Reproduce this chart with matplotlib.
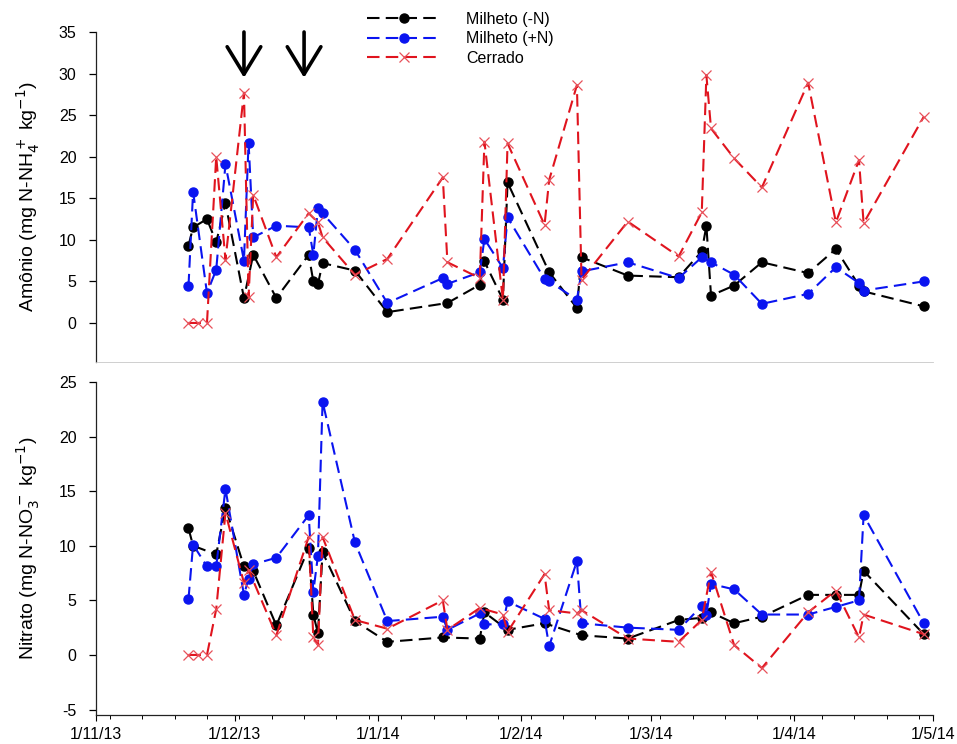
import matplotlib
matplotlib.use("Agg")
import matplotlib.pyplot as plt
import matplotlib.dates as mdates
import numpy as np
import pandas as pd

plt.rcParams['font.family'] = ['Liberation Sans', 'DejaVu Sans']
plt.rcParams['axes.unicode_minus'] = False

# ---------------- data ----------------
# Amônio (top panel)
amo_neg_dates = ['2013-11-21', '2013-11-22', '2013-11-25', '2013-11-27', '2013-11-29', '2013-12-03',
                 '2013-12-05', '2013-12-10', '2013-12-17', '2013-12-18', '2013-12-19', '2013-12-20',
                 '2013-12-27', '2014-01-03', '2014-01-16', '2014-01-23', '2014-01-24', '2014-01-28',
                 '2014-01-29', '2014-02-07', '2014-02-13', '2014-02-14', '2014-02-24', '2014-03-07',
                 '2014-03-12', '2014-03-13', '2014-03-14', '2014-03-19', '2014-03-25', '2014-04-04',
                 '2014-04-10', '2014-04-15', '2014-04-16', '2014-04-29']
amo_neg = [9.3, 11.5, 12.5, 9.7, 14.4, 3.0,
           8.2, 3.0, 8.2, 5.0, 4.7, 7.2,
           6.3, 1.3, 2.4, 4.6, 7.4, 2.8,
           16.9, 6.1, 1.8, 7.9, 5.7, 5.5,
           8.6, 11.7, 3.3, 4.5, 7.3, 6.0,
           8.9, 4.5, 3.8, 2.0]

amo_pos_dates = ['2013-11-21', '2013-11-22', '2013-11-25', '2013-11-27', '2013-11-29', '2013-12-03',
                 '2013-12-04', '2013-12-05', '2013-12-10', '2013-12-17', '2013-12-18', '2013-12-19',
                 '2013-12-20', '2013-12-27', '2014-01-03', '2014-01-15', '2014-01-16', '2014-01-23',
                 '2014-01-24', '2014-01-28', '2014-01-29', '2014-02-06', '2014-02-07', '2014-02-13',
                 '2014-02-14', '2014-02-24', '2014-03-07', '2014-03-12', '2014-03-14', '2014-03-19',
                 '2014-03-25', '2014-04-04', '2014-04-10', '2014-04-15', '2014-04-16', '2014-04-29']
amo_pos = [4.4, 15.8, 3.6, 6.4, 19.1, 7.5,
           21.7, 10.3, 11.7, 11.5, 8.2, 13.8,
           13.2, 8.8, 2.4, 5.4, 4.7, 6.1,
           10.1, 6.6, 12.7, 5.3, 5.0, 2.8,
           6.2, 7.3, 5.4, 7.9, 7.3, 5.8,
           2.3, 3.5, 6.7, 4.8, 3.9, 5.0]

amo_cer_dates = ['2013-11-21', '2013-11-23', '2013-11-25', '2013-11-27', '2013-11-29', '2013-12-03',
                 '2013-12-04', '2013-12-05', '2013-12-10', '2013-12-17', '2013-12-19', '2013-12-20',
                 '2013-12-27', '2014-01-03', '2014-01-15', '2014-01-16', '2014-01-23', '2014-01-24',
                 '2014-01-28', '2014-01-29', '2014-02-06', '2014-02-07', '2014-02-13', '2014-02-14',
                 '2014-02-24', '2014-03-07', '2014-03-12', '2014-03-13', '2014-03-14', '2014-03-19',
                 '2014-03-25', '2014-04-04', '2014-04-10', '2014-04-15', '2014-04-16', '2014-04-29']
amo_cer = [0.0, 0.0, 0.0, 20.0, 7.6, 27.7,
           3.1, 15.4, 7.9, 13.2, 12.1, 10.3,
           5.8, 7.7, 17.5, 7.3, 5.4, 21.8,
           2.8, 21.6, 11.8, 17.2, 28.6, 5.2,
           12.2, 8.0, 13.3, 29.8, 23.4, 19.8,
           16.3, 28.9, 12.1, 19.6, 12.0, 24.8]

# Nitrato (bottom panel)
nit_neg_dates = ['2013-11-21', '2013-11-22', '2013-11-27', '2013-11-29', '2013-12-03', '2013-12-05',
                 '2013-12-10', '2013-12-17', '2013-12-18', '2013-12-19', '2013-12-20', '2013-12-27',
                 '2014-01-03', '2014-01-15', '2014-01-23', '2014-01-24', '2014-01-29', '2014-02-06',
                 '2014-02-14', '2014-02-24', '2014-03-07', '2014-03-12', '2014-03-14', '2014-03-19',
                 '2014-03-25', '2014-04-04', '2014-04-10', '2014-04-15', '2014-04-16', '2014-04-29']
nit_neg = [11.6, 10.0, 9.2, 13.5, 8.1, 7.7,
           2.7, 9.8, 3.7, 2.0, 9.4, 3.1,
           1.2, 1.6, 1.5, 3.9, 2.3, 2.9,
           1.8, 1.5, 3.2, 3.4, 3.9, 2.9,
           3.5, 5.5, 5.5, 5.5, 7.7, 1.9]

nit_pos_dates = ['2013-11-21', '2013-11-22', '2013-11-25', '2013-11-27', '2013-11-29', '2013-12-03',
                 '2013-12-04', '2013-12-05', '2013-12-10', '2013-12-17', '2013-12-18', '2013-12-19',
                 '2013-12-20', '2013-12-27', '2014-01-03', '2014-01-15', '2014-01-16', '2014-01-23',
                 '2014-01-24', '2014-01-28', '2014-01-29', '2014-02-06', '2014-02-07', '2014-02-13',
                 '2014-02-14', '2014-02-24', '2014-03-07', '2014-03-12', '2014-03-13', '2014-03-14',
                 '2014-03-19', '2014-03-25', '2014-04-04', '2014-04-10', '2014-04-15', '2014-04-16',
                 '2014-04-29']
nit_pos = [5.1, 10.1, 8.1, 8.1, 15.2, 5.5,
           7.0, 8.3, 8.9, 12.8, 5.8, 9.1,
           23.2, 10.3, 3.1, 3.5, 2.3, 3.8,
           2.8, 2.8, 4.9, 3.3, 0.8, 8.6,
           2.9, 2.5, 2.3, 4.5, 3.7, 6.5,
           6.0, 3.7, 3.7, 4.4, 5.0, 12.8,
           2.9]

nit_cer_dates = ['2013-11-21', '2013-11-23', '2013-11-25', '2013-11-27', '2013-11-29', '2013-12-03',
                 '2013-12-04', '2013-12-10', '2013-12-17', '2013-12-18', '2013-12-19', '2013-12-20',
                 '2013-12-27', '2014-01-03', '2014-01-15', '2014-01-16', '2014-01-23', '2014-01-28',
                 '2014-01-29', '2014-02-06', '2014-02-07', '2014-02-13', '2014-02-14', '2014-02-24',
                 '2014-03-07', '2014-03-12', '2014-03-14', '2014-03-19', '2014-03-25', '2014-04-04',
                 '2014-04-10', '2014-04-15', '2014-04-16', '2014-04-29']
nit_cer = [0.0, 0.0, 0.0, 4.2, 13.0, 6.6,
           7.8, 1.8, 10.8, 1.6, 0.9, 10.8,
           3.2, 2.4, 5.0, 2.3, 4.3, 3.7,
           2.1, 7.4, 4.1, 3.8, 4.1, 1.5,
           1.2, 3.2, 7.6, 0.9, -1.2, 3.9,
           5.9, 1.6, 3.7, 1.9]

series_labels = ['Milheto (-N)', 'Milheto (+N)', 'Cerrado']
arrow_dates = ['2013-12-03', '2013-12-16']
x_range = ['2013-11-01', '2014-05-01']
amo_ylim = (-4.7, 35)
nit_ylim = (-5.5, 25)
amo_yticks = [0, 5, 10, 15, 20, 25, 30, 35]
nit_yticks = [-5, 0, 5, 10, 15, 20, 25]

# ---------------- styling ----------------
BLACK = '#000000'
BLUE = '#0a14f0'
RED = '#e0141e'
styles = [
    dict(color=BLACK, marker='o', markersize=6.5, markerfacecolor=BLACK, markeredgecolor=BLACK),
    dict(color=BLUE, marker='o', markersize=6.5, markerfacecolor=BLUE, markeredgecolor=BLUE),
    dict(color=RED, marker='x', markersize=7, markeredgecolor='#e8505a', markeredgewidth=0.9),
]

fig = plt.figure(figsize=(9.57, 7.44), dpi=100)
ax1 = fig.add_axes([0.1003, 0.5134, 0.8746, 0.4436])
ax2 = fig.add_axes([0.1003, 0.0390, 0.8746, 0.4476])

def plot_series(ax, data):
    handles = []
    for (dates, vals), st, lab in zip(data, styles, series_labels):
        h, = ax.plot(pd.to_datetime(dates), vals, linestyle=(0, (6, 3)), linewidth=1.5,
                     label=lab, **st)
        handles.append(h)
    return handles

handles = plot_series(ax1, [(amo_neg_dates, amo_neg), (amo_pos_dates, amo_pos), (amo_cer_dates, amo_cer)])
plot_series(ax2, [(nit_neg_dates, nit_neg), (nit_pos_dates, nit_pos), (nit_cer_dates, nit_cer)])

xr = pd.to_datetime(x_range)
for ax, yl, yt in [(ax1, amo_ylim, amo_yticks), (ax2, nit_ylim, nit_yticks)]:
    ax.set_xlim(xr[0], xr[1])
    ax.set_ylim(*yl)
    ax.set_yticks(yt)
    ax.spines['top'].set_visible(False)
    ax.spines['right'].set_visible(False)
    for s in ['left', 'bottom']:
        ax.spines[s].set_linewidth(0.9)
        ax.spines[s].set_color('#222222')
    ax.xaxis.set_major_locator(mdates.MonthLocator())
    ax.xaxis.set_minor_locator(mdates.WeekdayLocator(byweekday=mdates.MO))
    ax.xaxis.set_major_formatter(plt.FuncFormatter(
        lambda v, p: (lambda d: f"{d.day}/{d.month}/{d.year % 100}")(mdates.num2date(v))))
    ax.tick_params(axis='y', direction='out', length=5, width=0.9, pad=9, labelsize=11.5)
    ax.tick_params(axis='x', which='major', direction='out', length=4, width=0.8, labelsize=11.5, pad=5)
    ax.tick_params(axis='x', which='minor', direction='out', length=3, width=0.7)

ax1.tick_params(axis='x', which='both', labelbottom=False, length=0)
ax1.spines['bottom'].set_color('#c8c8c8')
ax1.spines['bottom'].set_linewidth(0.6)

lab_font = dict(family=['Liberation Sans Narrow', 'Liberation Sans', 'DejaVu Sans'], fontsize=14)
ax1.set_ylabel('Amônio (mg N-NH$_4^+$ kg$^{-1}$)', **lab_font)
ax2.set_ylabel('Nitrato (mg N-NO$_3^-$ kg$^{-1}$)', **lab_font)
ax1.yaxis.set_label_coords(-0.064, 0.5)
ax2.yaxis.set_label_coords(-0.064, 0.5)

# arrows
for d in pd.to_datetime(arrow_dates):
    ax1.annotate('', xy=(d, 29.5), xytext=(d, 35.0), annotation_clip=False,
                 arrowprops=dict(arrowstyle='->,head_length=0.9,head_width=0.55',
                                 lw=2.6, color='black', mutation_scale=22,
                                 shrinkA=0, shrinkB=0))

fig.legend(handles=handles, labels=series_labels, loc='upper left',
           bbox_to_anchor=(0.375, 0.995), frameon=False, fontsize=11.5,
           handlelength=4.6, handletextpad=1.6, labelspacing=0.28, borderpad=0)

fig.savefig('out.png', dpi=100)
